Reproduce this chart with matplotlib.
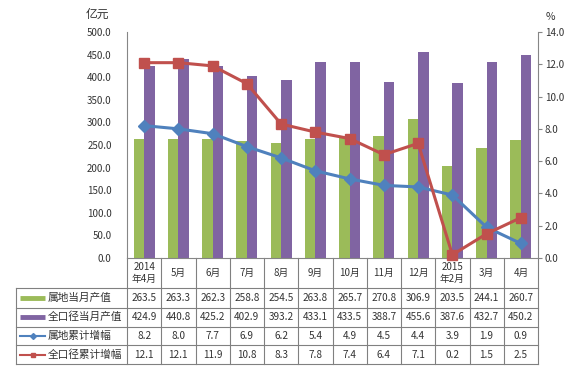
import numpy as np
import matplotlib.pyplot as plt
from matplotlib.transforms import blended_transform_factory

plt.rcParams['font.family'] = ['Noto Sans CJK SC', 'DejaVu Sans']

# 数据
months = ['2014\n年4月', '5月', '6月', '7月', '8月', '9月', '10月', '11月', '12月',
          '2015\n年2月', '3月', '4月']
local_month = [263.5, 263.3, 262.3, 258.8, 254.5, 263.8, 265.7, 270.8, 306.9, 203.5, 244.1, 260.7]
total_month = [424.9, 440.8, 425.2, 402.9, 393.2, 433.1, 433.5, 388.7, 455.6, 387.6, 432.7, 450.2]
local_growth = [8.2, 8.0, 7.7, 6.9, 6.2, 5.4, 4.9, 4.5, 4.4, 3.9, 1.9, 0.9]
total_growth = [12.1, 12.1, 11.9, 10.8, 8.3, 7.8, 7.4, 6.4, 7.1, 0.2, 1.5, 2.5]
series_names = ['属地当月产值', '全口径当月产值', '属地累计增幅', '全口径累计增幅']

green = '#9BBB59'
purple = '#8064A2'
blue = '#4F81BD'
red = '#C0504D'
gray = '#868686'

W, H = 576, 381
fig = plt.figure(figsize=(W / 100, H / 100), dpi=100)
# 绘图区 (像素): x 127-538, y 32-258
x0, x1, y0, y1 = 127, 538, 32, 258
ax = fig.add_axes([x0 / W, (H - y1) / H, (x1 - x0) / W, (y1 - y0) / H])

x = np.arange(len(months))
bw = 0.31
ax.bar(x - bw / 2, local_month, bw, color=green, zorder=2)
ax.bar(x + bw / 2, total_month, bw, color=purple, zorder=2)
ax.set_xlim(-0.5, len(months) - 0.5)
ax.set_ylim(0, 500)
ax.set_yticks(np.arange(0, 501, 50))
ax.set_yticklabels(['%.1f' % v for v in np.arange(0, 501, 50)])
ax.set_xticks([])
ax.tick_params(axis='y', length=0, pad=11, labelsize=7, colors='#333333')
for s in ['top', 'right']:
    ax.spines[s].set_visible(False)
for s in ['left', 'bottom']:
    ax.spines[s].set_color(gray)
    ax.spines[s].set_linewidth(0.8)

ax2 = ax.twinx()
ax2.plot(x, local_growth, color=blue, lw=2.2, marker='D', ms=6, clip_on=False, zorder=3)
ax2.plot(x, total_growth, color=red, lw=2.2, marker='s', ms=6.5, clip_on=False, zorder=3)
ax2.set_ylim(0, 14)
ax2.set_yticks(np.arange(0, 14.1, 2))
ax2.set_yticklabels(['%.1f' % v for v in np.arange(0, 14.1, 2)])
ax2.tick_params(axis='y', length=3, width=0.8, pad=2, labelsize=7,
                colors=gray, labelcolor='#333333')
for s in ['top', 'left', 'bottom']:
    ax2.spines[s].set_visible(False)
ax2.spines['right'].set_color(gray)
ax2.spines['right'].set_linewidth(0.8)

fig.text(97 / W, 1 - 14 / H, '亿元', fontsize=8.5, ha='center', va='center', color='#333333')
fig.text(550 / W, 1 - 17 / H, '%', fontsize=7.5, ha='center', va='center', color='#333333')

# 数据表
def fy(py):
    return (y1 - py) / (y1 - y0)

def fx(px):
    return (px - x0) / (x1 - x0)

bt = blended_transform_factory(ax.transData, ax.transAxes)
row_edges = [fy(258), fy(288), fy(307.5), fy(326.5), fy(345), fy(364)]
tbl_left = fx(16)
lc = '#808080'
for xi in np.arange(-0.5, len(months), 1.0):
    ax.plot([xi, xi], [row_edges[0], row_edges[-1]], color=lc, lw=0.8,
            transform=bt, clip_on=False, scalex=False, scaley=False)
ax.plot([tbl_left, tbl_left], [row_edges[1], row_edges[-1]], color=lc, lw=0.8,
        transform=ax.transAxes, clip_on=False)
for ye in row_edges[1:]:
    ax.plot([tbl_left, 1], [ye, ye], color=lc, lw=0.8,
            transform=ax.transAxes, clip_on=False)

hc = (row_edges[0] + row_edges[1]) / 2
for i, m in enumerate(months):
    ax.text(i, hc, m, transform=bt, ha='center', va='center', fontsize=7,
            linespacing=1.3, color='#333333')

rows = [local_month, total_month, local_growth, total_growth]
colors = [green, purple, blue, red]
for r, vals in enumerate(rows):
    yc = (row_edges[r + 1] + row_edges[r + 2]) / 2
    for i, v in enumerate(vals):
        ax.text(i, yc, '%.1f' % v, transform=bt, ha='center', va='center',
                fontsize=7.2, color='#333333')
    if r < 2:
        ax.plot([fx(20), fx(45)], [yc, yc], color=colors[r], lw=3.5,
                transform=ax.transAxes, clip_on=False, solid_capstyle='butt')
    else:
        ax.plot([fx(20), fx(45)], [yc, yc], color=colors[r], lw=1.5,
                transform=ax.transAxes, clip_on=False)
        ax.plot([fx(32.5)], [yc], marker='D' if r == 2 else 's', ms=3,
                color=colors[r], transform=ax.transAxes, clip_on=False)
    ax.text(fx(48), yc, series_names[r], transform=ax.transAxes, ha='left',
            va='center', fontsize=7.7, color='#333333')

fig.savefig('out.png', dpi=100)
